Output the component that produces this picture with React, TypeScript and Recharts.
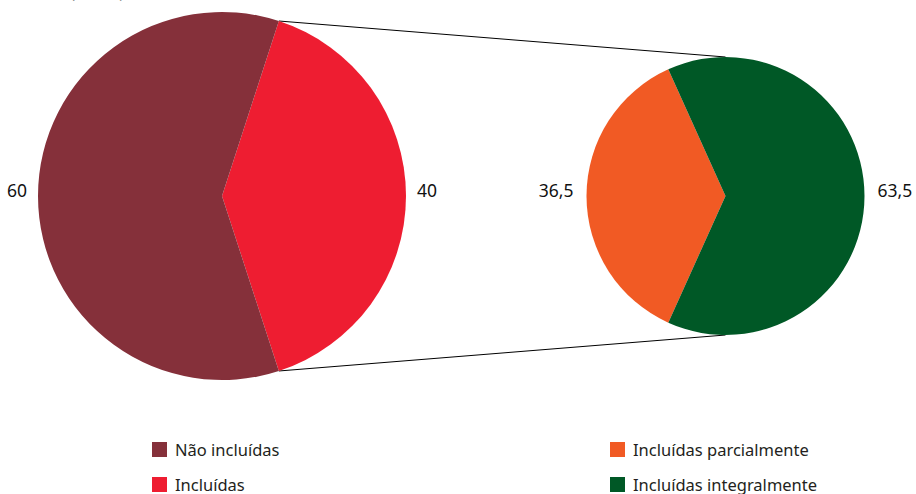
import React from 'react';
import { PieChart, Pie, Cell, Customized } from 'recharts';

const mainCategories = ['Incluídas', 'Não incluídas'];
const mainValues = [40, 60];
const subCategories = ['Incluídas parcialmente', 'Incluídas integralmente'];
const subValues = [36.5, 63.5];
const mainColors = ['#ee1d31', '#85303a'];
const subColors = ['#f15a24', '#005826'];
const legendLeft = ['Não incluídas', 'Incluídas'];
const legendLeftColors = ['#85303a', '#ee1d31'];
const legendRight = ['Incluídas parcialmente', 'Incluídas integralmente'];
const legendRightColors = ['#f15a24', '#005826'];

const mainData = mainCategories.map((name, i) => ({ name, value: mainValues[i] }));
const subData = subCategories.map((name, i) => ({ name, value: subValues[i] }));

const FONT = '"Noto Sans", "Open Sans", sans-serif';
const RAD = Math.PI / 180;

const L = { cx: 222, cy: 196, r: 184 };
const R = { cx: 725.5, cy: 196, r: 139 };

const mainHalf = (360 * mainValues[0]) / 100 / 2;
const subHalf = (360 * subValues[0]) / 100 / 2;

const fmt = (v: number) => String(v).replace('.', ',');

const makeLabel = (offset: number) => (props: any) => {
  const { cx, cy, midAngle, outerRadius, value } = props;
  const cos = Math.cos(-midAngle * RAD);
  const x = cx + (outerRadius + offset) * cos;
  const y = cy + 1;
  return (
    <text x={x} y={y} textAnchor={cos >= 0 ? 'start' : 'end'} fill="#111" fontSize={17.5} fontFamily={FONT}>
      {fmt(value)}
    </text>
  );
};

const Connectors = () => {
  const a = mainHalf * RAD;
  const x1 = L.cx + L.r * Math.cos(a);
  const yTop = L.cy - L.r * Math.sin(a);
  const yBot = L.cy + L.r * Math.sin(a);
  return (
    <g>
      <line x1={x1} y1={yTop} x2={R.cx} y2={R.cy - R.r} stroke="#000" strokeWidth={1} />
      <line x1={x1} y1={yBot} x2={R.cx} y2={R.cy + R.r} stroke="#000" strokeWidth={1} />
    </g>
  );
};

const LegendCol = ({ x, items, colors }: { x: number; items: string[]; colors: string[] }) => (
  <>
    {items.map((t, i) => (
      <div key={t} style={{ position: 'absolute', left: x, top: 442 + i * 35, display: 'flex', alignItems: 'center', height: 15 }}>
        <div style={{ width: 15, height: 15, background: colors[i], marginRight: 8, flex: 'none' }} />
        <span style={{ fontFamily: FONT, fontSize: 16.5, color: '#231f20', whiteSpace: 'nowrap' }}>{t}</span>
      </div>
    ))}
  </>
);

export default function App() {
  return (
    <div style={{ position: 'fixed', left: 0, top: 0, width: 916, height: 494, background: '#fff', overflow: 'hidden' }}>
      <div style={{ position: 'absolute', left: 70, top: -20, fontFamily: FONT, fontSize: 17, color: '#231f20' }}>(em %)</div>
      <PieChart width={916} height={494} margin={{ top: 0, right: 0, bottom: 0, left: 0 }} style={{ position: 'absolute', left: 0, top: 0 }}>
        <Customized component={Connectors} />
        <Pie
          data={mainData}
          dataKey="value"
          cx={L.cx}
          cy={L.cy}
          outerRadius={L.r}
          startAngle={-mainHalf}
          endAngle={360 - mainHalf}
          stroke="none"
          label={makeLabel(11)}
          labelLine={false}
          isAnimationActive={false}
        >
          {mainData.map((d, i) => (
            <Cell key={d.name} fill={mainColors[i]} />
          ))}
        </Pie>
        <Pie
          data={subData}
          dataKey="value"
          cx={R.cx}
          cy={R.cy}
          outerRadius={R.r}
          startAngle={180 - subHalf}
          endAngle={540 - subHalf}
          stroke="none"
          label={makeLabel(13)}
          labelLine={false}
          isAnimationActive={false}
        >
          {subData.map((d, i) => (
            <Cell key={d.name} fill={subColors[i]} />
          ))}
        </Pie>
      </PieChart>
      <LegendCol x={152} items={legendLeft} colors={legendLeftColors} />
      <LegendCol x={610} items={legendRight} colors={legendRightColors} />
    </div>
  );
}
